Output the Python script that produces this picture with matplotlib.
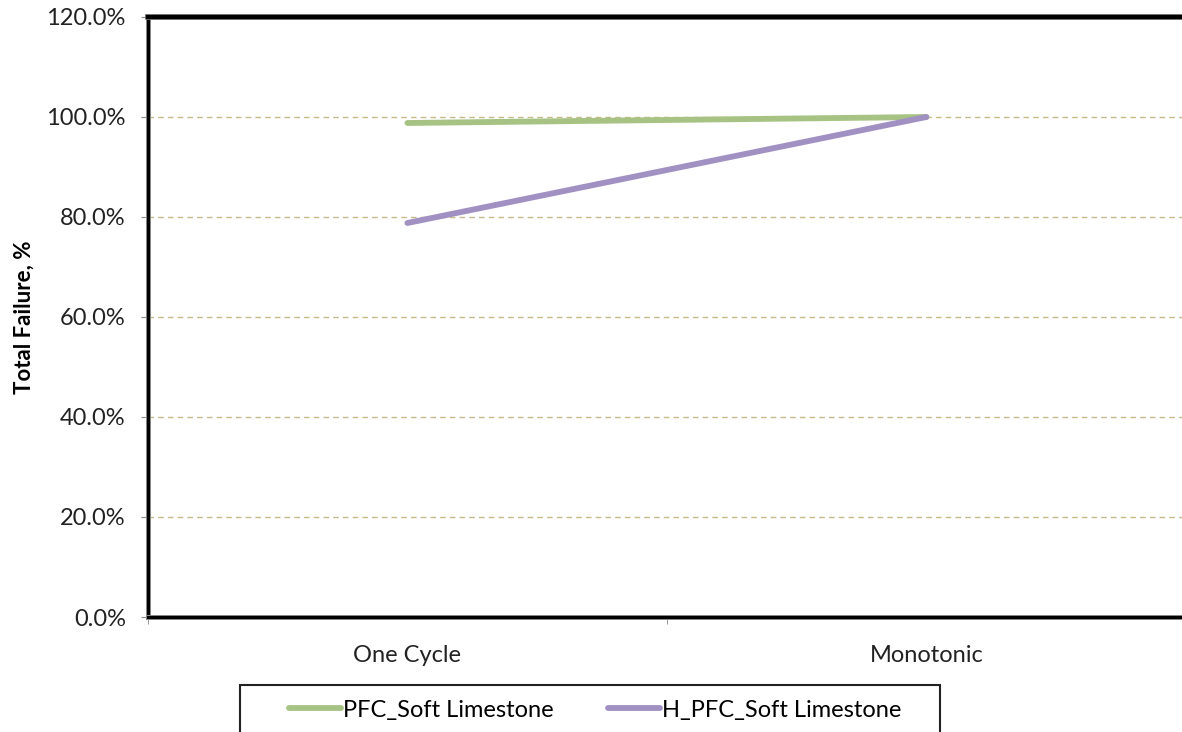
import matplotlib.pyplot as plt
import matplotlib.patheffects as pe
from matplotlib.patches import Rectangle
from matplotlib.ticker import FixedLocator, PercentFormatter

categories = ['One Cycle', 'Monotonic']
pfc_soft = [98.8, 100.0]
h_pfc_soft = [78.8, 100.0]
series_names = ['PFC_Soft Limestone', 'H_PFC_Soft Limestone']
y_ticks = [0, 20, 40, 60, 80, 100, 120]

plt.rcParams['font.family'] = ['Lato', 'DejaVu Sans']
fs = 17

fig = plt.figure(figsize=(11.82, 7.32), dpi=100)
ax = fig.add_axes([0.1252, 0.1571, 0.878, 0.8197])

x = range(len(categories))
ax.plot(x, pfc_soft, color='#a6c384', linewidth=4.2, solid_capstyle='round',
        label=series_names[0], zorder=3)
ax.plot(x, h_pfc_soft, color='#a190c2', linewidth=4.2, solid_capstyle='round',
        label=series_names[1], zorder=3)

ax.set_xlim(-0.5, 1.5)
ax.set_ylim(0, 120)
ax.set_yticks(y_ticks)
ax.yaxis.set_major_formatter(PercentFormatter(decimals=1))
ax.set_xticks(list(x))
ax.set_xticklabels(categories)
ax.xaxis.set_minor_locator(FixedLocator([-0.5, 0.5, 1.5]))
ax.tick_params(axis='x', which='major', length=0, pad=20, labelsize=fs, labelcolor='#222222')
ax.tick_params(axis='x', which='minor', length=5, color='#888888', direction='out')
ax.tick_params(axis='y', length=5, color='#888888', labelsize=fs, pad=11, labelcolor='#222222')

for v in y_ticks[1:-1]:
    ax.axhline(v, color='#c4bb88', linestyle=(0, (4, 3)), linewidth=1, zorder=1)

ax.set_ylabel('Total Failure, %', fontsize=16, fontweight='bold', labelpad=8)

outline = [pe.Stroke(linewidth=3.6, foreground='#8a8a8a'), pe.Normal()]
for side in ['left', 'bottom']:
    ax.spines[side].set_linewidth(2.2)
    ax.spines[side].set_color('black')
    ax.spines[side].set_path_effects(outline)
ax.spines['top'].set_linewidth(3.2)
ax.spines['top'].set_path_effects([pe.Stroke(linewidth=4.2, foreground='#8a8a8a'), pe.Normal()])
ax.spines['right'].set_visible(False)

# legend entries without frame, box drawn separately
leg = fig.legend(loc='center left', bbox_to_anchor=(277 / 1182, 1 - 710 / 732), ncol=2,
                 frameon=False, fontsize=fs, handlelength=2.2, borderpad=0,
                 handletextpad=0.1, columnspacing=2.3)
fig.patches.append(Rectangle((240 / 1182, -0.02), 700 / 1182, 1 - 685 / 732 + 0.02,
                             transform=fig.transFigure, fill=False,
                             edgecolor='#222222', linewidth=1.5))

fig.savefig('out.png', dpi=100)
